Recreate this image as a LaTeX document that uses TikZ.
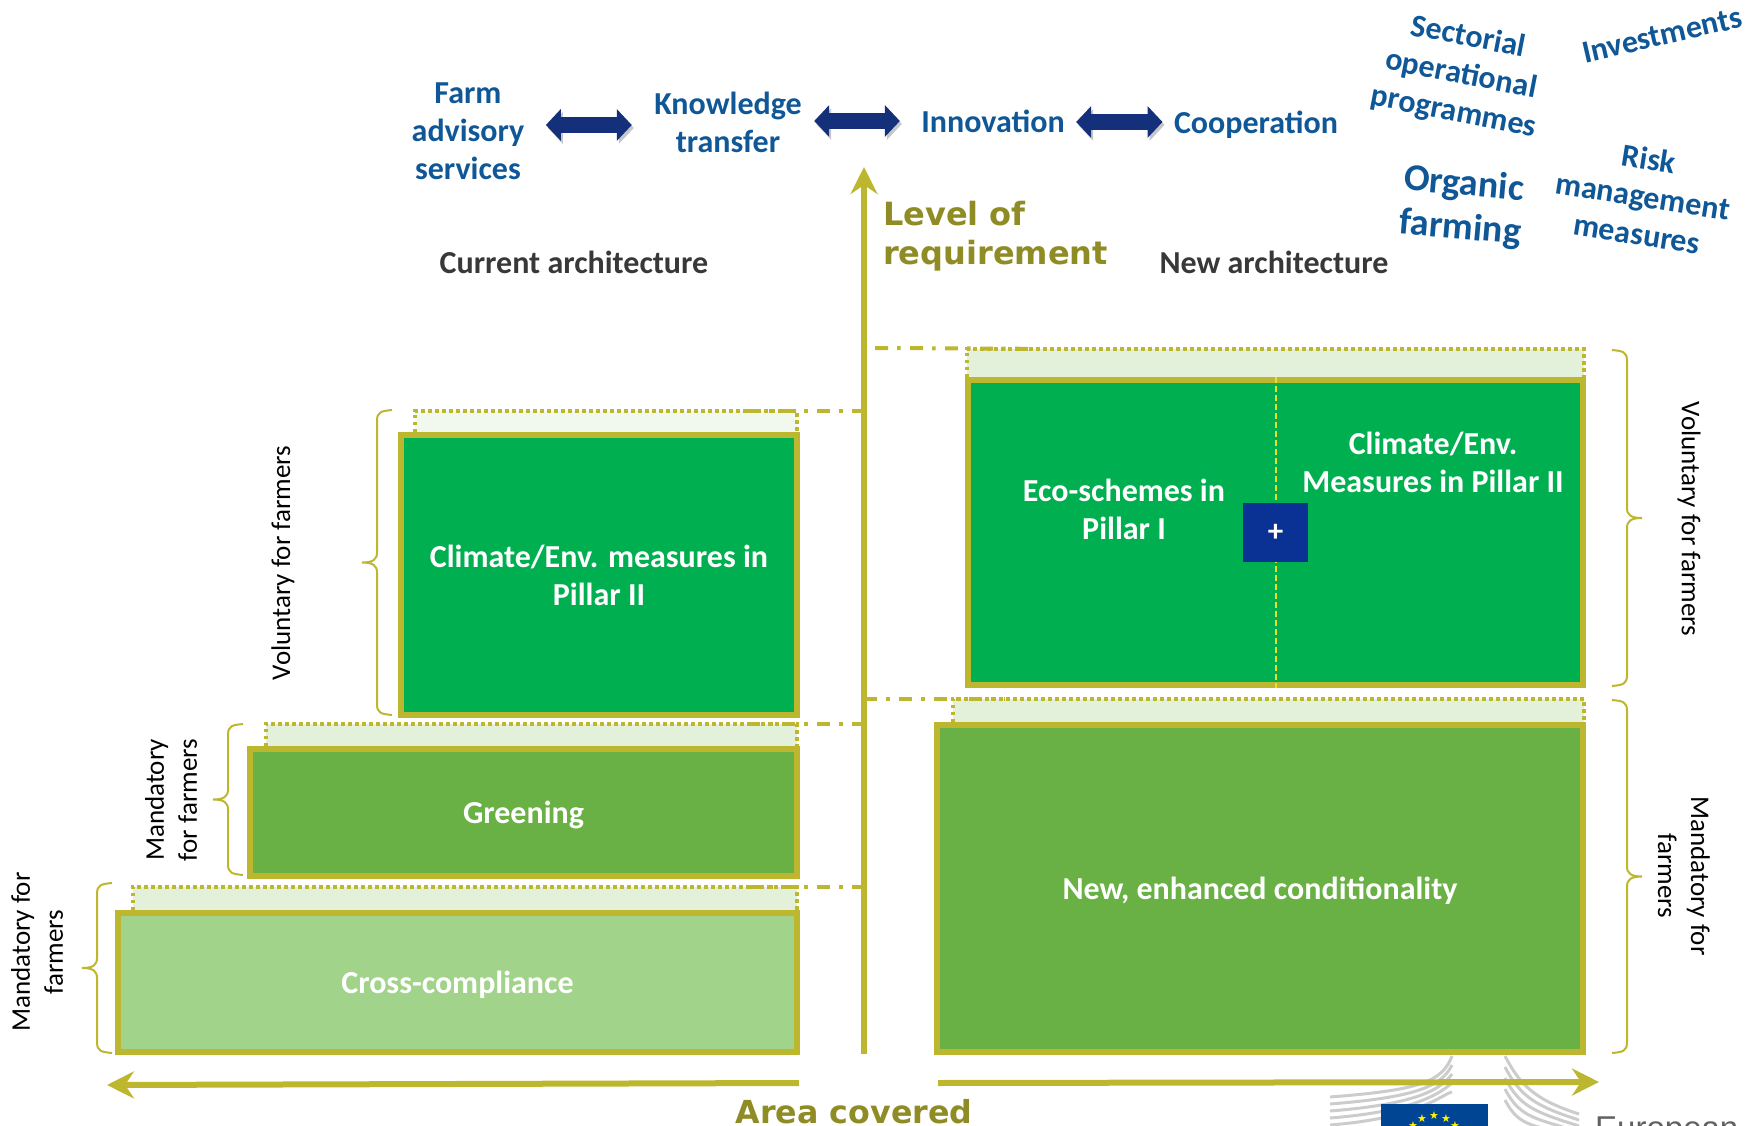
\documentclass[tikz,border=0pt]{standalone}
\usepackage{fontspec}
\setmainfont{Carlito}
\newfontfamily\widefont{DejaVu Sans}
\newfontfamily\logofont{Liberation Sans}
\usetikzlibrary{arrows.meta}
\definecolor{olive}{HTML}{BDB72F}
\definecolor{darkolive}{HTML}{8F8C26}
\definecolor{strongfill}{HTML}{00AF50}
\definecolor{midfill}{HTML}{69B144}
\definecolor{lightfill}{HTML}{A2D38A}
\definecolor{ghostfill}{HTML}{E3F1DB}
\definecolor{toolblue}{HTML}{0F5796}
\definecolor{navy}{HTML}{14307A}
\definecolor{plusblue}{HTML}{0A3294}
\definecolor{flagblue}{HTML}{004494}
\newcommand{\sidebrace}[4]{\draw[farmbrace] (#1,#3) .. controls (#1-#2*11,#3+1) and (#1-#2*15,#3+2) .. (#1-#2*15,#3+11) -- (#1-#2*15,{(#3+#4)/2-10}) .. controls (#1-#2*15,{(#3+#4)/2-3}) and (#1-#2*19,{(#3+#4)/2}) .. (#1-#2*30,{(#3+#4)/2}) .. controls (#1-#2*19,{(#3+#4)/2}) and (#1-#2*15,{(#3+#4)/2+3}) .. (#1-#2*15,{(#3+#4)/2+10}) -- (#1-#2*15,#4-11) .. controls (#1-#2*15,#4-2) and (#1-#2*11,#4-1) .. (#1,#4);}

\begin{document}
\begin{tikzpicture}[x=1pt,y=-1pt,
		box/.style={draw=olive,line width=6pt,inner sep=0pt,text=white,align=center,font=\bfseries\fontsize{32}{38}\selectfont},
		oneline/.style={text depth=0pt},
		ghost/.style={fill=ghostfill,inner sep=0pt},
		ghostline/.style={olive,line width=3.5pt,dash pattern=on 3.5pt off 3.5pt},
		level/.style={olive,line width=4pt,dash pattern=on 13pt off 9pt on 3.5pt off 9.5pt},
		axis/.style={olive,line width=6pt,-{Stealth[length=27pt,width=27pt,inset=9pt]}},
		farmbrace/.style={olive,line width=2pt},
		tool/.style={text=toolblue,align=center,font=\bfseries\fontsize{32}{38}\selectfont},
		side/.style={align=center,font=\fontsize{27}{33}\selectfont},
		head/.style={text=black!78,font=\bfseries\fontsize{32}{38}\selectfont},
		link/.style={navy,line width=16pt,{Triangle[length=15pt,width=31pt]}-{Triangle[length=15pt,width=31pt]},preaction={draw=black!22,transform canvas={shift={(2pt,-3pt)}}}},
		logoline/.style={black!20,line width=3pt}]
	\clip (0,0) rectangle (1757,1126);

	\foreach \i in {0,...,4} {
		\draw[logoline] (1330,1097+\i*7) .. controls (1420,1090+\i*7) and (1442,1082+\i*3) .. (1452,1056+\i*9);
		\draw[logoline] (1505,1056+\i*11) .. controls (1520,1085+\i*11) and (1535,1100+\i*6) .. (1579,1114+\i*6);
	}
	\node[fill=flagblue,inner sep=0pt,minimum width=107pt,minimum height=44pt] (flag) at (1434.5,1126) {};
	\foreach \n/\x/\y in {a/1413/1126,b/1422/1119,c/1434/1116,d/1446/1119,e/1455/1126}
		\node[text=yellow,inner sep=0pt,font=\widefont\fontsize{11}{11}\selectfont] (star\n) at (\x,\y) {★};
	\node[anchor=base west,inner sep=0pt,text=black!62,font=\logofont\fontsize{33}{35}\selectfont] (logotext) at (1595,1139) {European};

	\coordinate (axisbase) at (864,1054);
	\coordinate (axistop) at (864,167);
	\coordinate (leftend) at (107,1085);
	\coordinate (rightend) at (1599,1082);
	\coordinate (leftstart) at (799,1083);
	\coordinate (rightstart) at (938,1083);

	\node[ghost,minimum width=382pt,minimum height=21pt,fill=ghostfill!50] (ghostclimate) at (606,421.5) {};
	\node[ghost,minimum width=531pt,minimum height=22pt] (ghostgreening) at (531.5,735) {};
	\node[ghost,minimum width=664pt,minimum height=23pt] (ghostcross) at (465,898.5) {};
	\node[ghost,minimum width=617pt,minimum height=28pt] (ghosteco) at (1275.5,363) {};
	\node[ghost,minimum width=631pt,minimum height=23pt] (ghostcond) at (1268.5,710.5) {};
	\foreach \g in {ghostclimate,ghostgreening,ghostcross,ghosteco,ghostcond}
		\draw[ghostline] (\g.south west) |- (\g.north east) -- (\g.south east);

	\draw[level] ([xshift=-50pt]ghostclimate.north east) -- (ghostclimate.north east -| axistop);
	\draw[level] ([xshift=-50pt]ghostgreening.north east) -- (ghostgreening.north east -| axistop);
	\draw[level] ([xshift=-50pt]ghostcross.north east) -- (ghostcross.north east -| axistop);
	\draw[level] (875,348) -- ([xshift=62pt]ghosteco.north west);
	\draw[level] (ghostcond.north west -| axistop) -- ([xshift=52pt]ghostcond.north west);

	\node[box,fill=strongfill,minimum width=396pt,minimum height=280pt] (climate) at (599,575) {Climate/Env. measures in\\Pillar II};
	\node[box,oneline,fill=midfill,minimum width=547pt,minimum height=127pt] (greening) at (523.5,812.5) {Greening};
	\node[box,oneline,fill=lightfill,minimum width=679pt,minimum height=139pt] (cross) at (457.5,982.5) {Cross-compliance};
	\node[box,fill=strongfill,minimum width=615pt,minimum height=305pt] (eco) at (1275.5,532.5) {};
	\node[box,oneline,fill=midfill,minimum width=646pt,minimum height=327pt] (cond) at (1260,888.5) {New, enhanced conditionality};
	\node[text=white,align=center,font=\bfseries\fontsize{32}{38}\selectfont] (ecotext) at (1124,509) {Eco-schemes in\\Pillar I};
	\node[text=white,align=center,font=\bfseries\fontsize{32}{38}\selectfont] (measures) at (1433,462) {Climate/Env.\\Measures in Pillar II};
	\draw[yellow!65!olive,line width=2pt,dash pattern=on 6pt off 3pt] (eco.north) -- (eco.south);
	\node[fill=plusblue,text=white,inner sep=0pt,minimum width=65pt,minimum height=59pt,font=\bfseries\fontsize{31}{31}\selectfont] (plus) at (1275.5,532.5) {\raisebox{-7pt}{+}};

	\draw[axis] (axisbase) -- (axistop);
	\draw[axis] (leftstart) -- (leftend);
	\draw[axis] (rightstart) -- (rightend);

	\sidebrace{392}{1}{410}{715}
	\sidebrace{243}{1}{724}{875}
	\sidebrace{112}{1}{883}{1053}
	\sidebrace{1612}{-1}{350}{686}
	\sidebrace{1612}{-1}{700}{1053}

	\node[side,rotate=90] (volleft) at (283,563) {Voluntary for farmers};
	\node[side,rotate=90] (mangreening) at (171,800) {Mandatory\\for farmers};
	\node[side,rotate=90] (mancross) at (37,952) {Mandatory for\\farmers};
	\node[side,rotate=-90] (volright) at (1689,519) {Voluntary for farmers};
	\node[side,rotate=-90] (manright) at (1684,876) {Mandatory for\\farmers};

	\node[head] (current) at (574,262) {Current architecture};
	\node[head] (new) at (1274,262) {New architecture};
	\node[anchor=west,inner sep=0pt,text=darkolive,align=left,font=\widefont\bfseries\fontsize{32}{39}\selectfont] (requirement) at (883,236) {Level of\\requirement};
	\node[text=darkolive,inner sep=0pt,font=\widefont\bfseries\fontsize{31.7}{33}\selectfont] (area) at (854,1112) {Area covered};

	\node[tool] (farm) at (468,131) {Farm\\advisory\\services};
	\node[tool] (knowledge) at (728,122) {Knowledge\\transfer};
	\node[tool] (innovation) at (993,121) {Innovation};
	\node[tool] (cooperation) at (1256,125) {Cooperation};
	\draw[link] ([xshift=18pt,yshift=6pt]farm.east) -- ([xshift=-19pt,yshift=-3pt]knowledge.west);
	\draw[link] ([xshift=9pt,yshift=1pt]knowledge.east) -- ([xshift=-18pt]innovation.west);
	\draw[link] ([xshift=8pt,yshift=-1pt]innovation.east) -- ([xshift=-8pt,yshift=3pt]cooperation.west);

	\node[tool,rotate=-11] (sectorial) at (1461,75) {Sectorial\\operational\\programmes};
	\node[tool,rotate=13] (investments) at (1662,35) {Investments};
	\node[tool,rotate=-5,font=\bfseries\fontsize{38}{44}\selectfont] (organic) at (1462,207) {Organic\\farming};
	\node[tool,rotate=-9] (risk) at (1643,196) {Risk\\management\\measures};
\end{tikzpicture}
\end{document}
